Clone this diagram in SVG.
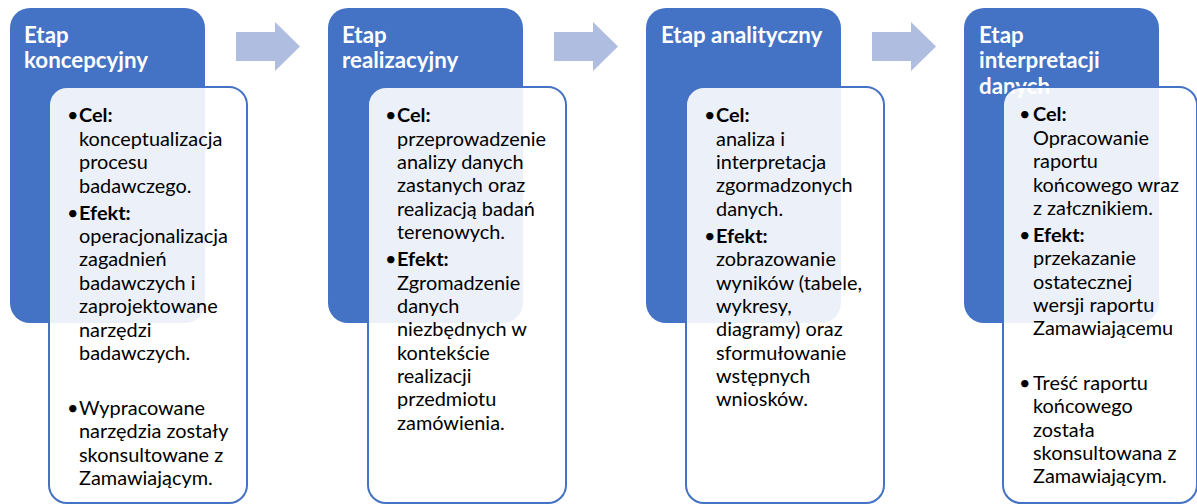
<svg xmlns="http://www.w3.org/2000/svg" width="1197" height="504" viewBox="0 0 1197 504">
<style>
.stage{fill:#4472C4}
.card{fill:#FFFFFF;fill-opacity:0.9;stroke:#4472C4;stroke-width:2}
.arrow{fill:#AFBDE0}
.title{font-family:Lato,"Liberation Sans",sans-serif;font-weight:bold;font-size:22.3px;fill:#FFFFFF}
.body{font-family:Lato,"Liberation Sans",sans-serif;font-size:19.9px;fill:#000000}
.b{font-weight:bold}
</style>
<rect width="1197" height="504" fill="#FFFFFF"/>
<g id="connectors">
<path class="arrow" d="M236,32 H275 V22 L300,46.5 L275,71 V61 H236 Z"/>
<path class="arrow" d="M554,32 H593 V22 L618,46.5 L593,71 V61 H554 Z"/>
<path class="arrow" d="M872,32 H911 V22 L936,46.5 L911,71 V61 H872 Z"/>
</g>
<g id="stage1">
<rect class="stage" x="10" y="8" width="195" height="315" rx="20"/>
<text class="title" x="24"><tspan x="24" y="43">Etap</tspan><tspan x="24" y="68">koncepcyjny</tspan></text>
<rect class="card" x="49" y="87" width="198" height="416" rx="18"/>
<text class="body">
<tspan x="67" y="122">•</tspan><tspan x="79" y="122" class="b">Cel:</tspan>
<tspan x="79" y="145.5">konceptualizacja</tspan>
<tspan x="79" y="169">procesu</tspan>
<tspan x="79" y="192.5">badawczego.</tspan>
<tspan x="67" y="220">•</tspan><tspan x="79" y="220" class="b">Efekt:</tspan>
<tspan x="79" y="243">operacjonalizacja</tspan>
<tspan x="79" y="266.3">zagadnień</tspan>
<tspan x="79" y="289.6">badawczych i</tspan>
<tspan x="79" y="313">zaprojektowane</tspan>
<tspan x="79" y="336.5">narzędzi</tspan>
<tspan x="79" y="360">badawczych.</tspan>
<tspan x="67" y="415">•</tspan><tspan x="79" y="415">Wypracowane</tspan>
<tspan x="79" y="438.3">narzędzia zostały</tspan>
<tspan x="79" y="461.6">skonsultowane z</tspan>
<tspan x="79" y="485">Zamawiającym.</tspan>
</text>
</g>
<g id="stage2">
<rect class="stage" x="328" y="8" width="195" height="315" rx="20"/>
<text class="title"><tspan x="342" y="43">Etap</tspan><tspan x="342" y="68">realizacyjny</tspan></text>
<rect class="card" x="368" y="87" width="198" height="416" rx="18"/>
<text class="body">
<tspan x="385" y="122">•</tspan><tspan x="397" y="122" class="b">Cel:</tspan>
<tspan x="397" y="145.5">przeprowadzenie</tspan>
<tspan x="397" y="169">analizy danych</tspan>
<tspan x="397" y="192.3">zastanych oraz</tspan>
<tspan x="397" y="215.7">realizacją badań</tspan>
<tspan x="397" y="239">terenowych.</tspan>
<tspan x="385" y="266.3">•</tspan><tspan x="397" y="266.3" class="b">Efekt:</tspan>
<tspan x="397" y="289.7">Zgromadzenie</tspan>
<tspan x="397" y="313">danych</tspan>
<tspan x="397" y="336.3">niezbędnych w</tspan>
<tspan x="397" y="359.7">kontekście</tspan>
<tspan x="397" y="383">realizacji</tspan>
<tspan x="397" y="406.3">przedmiotu</tspan>
<tspan x="397" y="429.7">zamówienia.</tspan>
</text>
</g>
<g id="stage3">
<rect class="stage" x="646" y="8" width="195" height="315" rx="20"/>
<text class="title"><tspan x="661" y="43">Etap analityczny</tspan></text>
<rect class="card" x="686" y="87" width="198" height="416" rx="18"/>
<text class="body">
<tspan x="704" y="122">•</tspan><tspan x="716" y="122" class="b">Cel:</tspan>
<tspan x="716" y="145.5">analiza i</tspan>
<tspan x="716" y="169">interpretacja</tspan>
<tspan x="716" y="192.3">zgormadzonych</tspan>
<tspan x="716" y="215.7">danych.</tspan>
<tspan x="704" y="243">•</tspan><tspan x="716" y="243" class="b">Efekt:</tspan>
<tspan x="716" y="266.3">zobrazowanie</tspan>
<tspan x="716" y="289.7">wyników (tabele,</tspan>
<tspan x="716" y="313">wykresy,</tspan>
<tspan x="716" y="336.3">diagramy) oraz</tspan>
<tspan x="716" y="359.7">sformułowanie</tspan>
<tspan x="716" y="383">wstępnych</tspan>
<tspan x="716" y="406.3">wniosków.</tspan>
</text>
</g>
<g id="stage4">
<rect class="stage" x="964" y="8" width="195" height="315" rx="20"/>
<text class="title"><tspan x="979" y="43">Etap</tspan><tspan x="979" y="68">interpretacji</tspan><tspan x="979" y="94">danych</tspan></text>
<rect class="card" x="1003" y="87" width="194" height="416" rx="18"/>
<text class="body">
<tspan x="1019" y="121">•</tspan><tspan x="1033" y="121" class="b">Cel:</tspan>
<tspan x="1033" y="145">Opracowanie</tspan>
<tspan x="1033" y="168">raportu</tspan>
<tspan x="1033" y="192">końcowego wraz</tspan>
<tspan x="1033" y="215">z załcznikiem.</tspan>
<tspan x="1019" y="242">•</tspan><tspan x="1033" y="242" class="b">Efekt:</tspan>
<tspan x="1033" y="265">przekazanie</tspan>
<tspan x="1033" y="288.5">ostatecznej</tspan>
<tspan x="1033" y="312">wersji raportu</tspan>
<tspan x="1033" y="335">Zamawiającemu</tspan>
<tspan x="1019" y="390">•</tspan><tspan x="1033" y="390">Treść raportu</tspan>
<tspan x="1033" y="413">końcowego</tspan>
<tspan x="1033" y="436.5">została</tspan>
<tspan x="1033" y="460">skonsultowana z</tspan>
<tspan x="1033" y="483">Zamawiającym.</tspan>
</text>
</g>
</svg>
